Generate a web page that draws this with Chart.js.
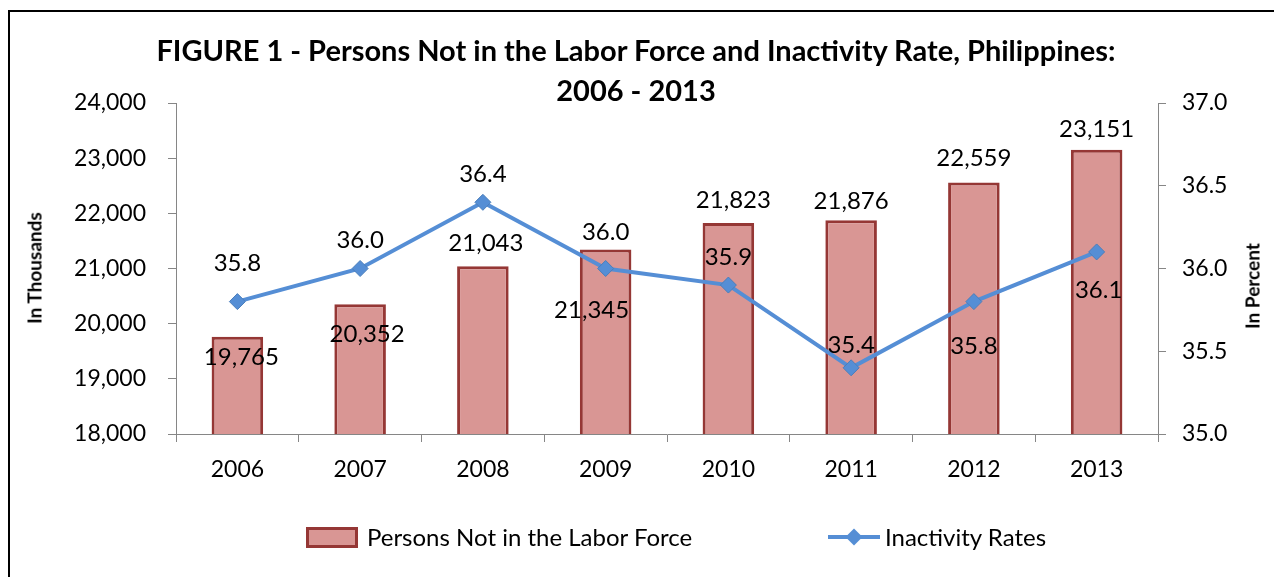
<!DOCTYPE html>
<html>
<head>
<meta charset="utf-8">
<script src="https://cdn.jsdelivr.net/npm/chart.js@4"></script>
<style>
  body { margin: 0; background: #fff; font-family: Lato, sans-serif; }
  #wrap { position: relative; width: 1274px; height: 577px; overflow: hidden; background: #fff; }
  #frame { position: absolute; left: 8px; top: 10px; width: 1300px; height: 620px; border: 2px solid #000; box-sizing: border-box; }
  #chart { position: absolute; left: 0; top: 0; }
  .title { position: absolute; left: 0; width: 1272px; text-align: center; font-weight: bold; font-size: 29px; color: #000; line-height: 36px; }
  .axtitle { position: absolute; font-weight: bold; font-size: 19px; color: #000; white-space: nowrap; transform: translate(-50%, -50%) rotate(-90deg); }
  .leg { position: absolute; font-size: 24px; color: #000; line-height: 30px; white-space: nowrap; }
  .leg-bar { position: absolute; width: 46px; height: 15px; background: #D99694; border: 3px solid #953735; }
  .leg-line { position: absolute; width: 52px; height: 4px; background: #558ED5; }
  .leg-dia { position: absolute; width: 12px; height: 12px; background: #558ED5; transform: rotate(45deg); }
</style>
</head>
<body>
<div id="wrap">
  <div id="frame"></div>
  <canvas id="chart" width="1274" height="577"></canvas>
  <div class="title" style="top:32px">FIGURE 1 - Persons Not in the Labor Force and Inactivity Rate, Philippines:</div>
  <div class="title" style="top:72px">2006 - 2013</div>
  <div class="axtitle" style="left:34px;top:268px">In Thousands</div>
  <div class="axtitle" style="left:1252px;top:286px">In Percent</div>
  <div class="leg-bar" style="left:306px;top:527px"></div>
  <div class="leg" style="left:367px;top:522px">Persons Not in the Labor Force</div>
  <div class="leg-line" style="left:828px;top:535px"></div>
  <div class="leg-dia" style="left:848px;top:531px"></div>
  <div class="leg" style="left:885px;top:522px">Inactivity Rates</div>
</div>
<script>
// Datos
const years = ['2006', '2007', '2008', '2009', '2010', '2011', '2012', '2013'];
const personsNotInLF = [19765, 20352, 21043, 21345, 21823, 21876, 22559, 23151];
const inactivityRates = [35.8, 36.0, 36.4, 36.0, 35.9, 35.4, 35.8, 36.1];
const leftTicks = { min: 18000, max: 24000, step: 1000 };
const rightTicks = { min: 35, max: 37, step: 0.5 };

const fmtThousands = v => Number(v).toLocaleString('en-US');

// etiquetas de valores
const valueLabels = {
  id: 'valueLabels',
  afterDatasetsDraw(chart, args, opts) {
    const ctx = chart.ctx;
    ctx.save();
    ctx.font = opts.font;
    ctx.fillStyle = '#000';
    ctx.textAlign = 'center';
    ctx.textBaseline = 'middle';
    chart.data.datasets.forEach((ds, di) => {
      const meta = chart.getDatasetMeta(di);
      const off = opts.offsets[di];
      meta.data.forEach((el, i) => {
        const txt = di === 0 ? fmtThousands(ds.data[i]) : ds.data[i].toFixed(1);
        ctx.fillText(txt, el.x + off[i][0], el.y + off[i][1]);
      });
    });
    ctx.restore();
  }
};

const tickFont = { family: 'Lato', size: 23 };
const axisGray = '#868686';

new Chart(document.getElementById('chart'), {
  type: 'bar',
  data: {
    labels: years,
    datasets: [
      {
        label: 'Persons Not in the Labor Force',
        data: personsNotInLF,
        yAxisID: 'y',
        backgroundColor: '#D99694',
        borderColor: '#953735',
        borderWidth: 3,
        barPercentage: 0.42,
        categoryPercentage: 1,
        order: 2
      },
      {
        type: 'line',
        label: 'Inactivity Rates',
        data: inactivityRates,
        yAxisID: 'y1',
        borderColor: '#558ED5',
        backgroundColor: '#558ED5',
        borderWidth: 4,
        pointStyle: 'rectRot',
        pointRadius: 8,
        pointBorderWidth: 1,
        pointBorderColor: '#4A7EBB',
        tension: 0,
        order: 1
      }
    ]
  },
  options: {
    responsive: false,
    devicePixelRatio: 1,
    animation: false,
    layout: { padding: { left: 0, right: 0, top: 103, bottom: 0 } },
    plugins: {
      legend: { display: false },
      title: { display: false },
      tooltip: { enabled: false },
      valueLabels: {
        font: '24px Lato',
        offsets: [
          [[4, 21], [7, 30], [3, -23], [-14, 61], [5, -23], [0, -19], [0, -24], [0, -21]],
          [[0, -38], [0, -28], [0, -28], [0, -36], [0, -28], [0, -23], [0, 45], [2, 38]]
        ]
      }
    },
    scales: {
      x: {
        offset: true,
        afterFit: s => { s.height = 143; },
        grid: { offset: true, drawOnChartArea: false, drawTicks: true, tickLength: 8, color: axisGray },
        border: { display: true, color: axisGray, width: 1 },
        ticks: { font: tickFont, color: '#000', padding: 14 }
      },
      y: {
        position: 'left',
        min: leftTicks.min,
        max: leftTicks.max,
        afterFit: s => { s.width = 176; },
        grid: { drawOnChartArea: false, drawTicks: true, tickLength: 8, color: axisGray },
        border: { display: true, color: axisGray, width: 1 },
        ticks: { stepSize: leftTicks.step, font: tickFont, color: '#000', padding: 22, callback: v => fmtThousands(v) }
      },
      y1: {
        position: 'right',
        min: rightTicks.min,
        max: rightTicks.max,
        afterFit: s => { s.width = 116; },
        grid: { drawOnChartArea: false, drawTicks: true, tickLength: 8, color: axisGray },
        border: { display: true, color: axisGray, width: 1 },
        ticks: { stepSize: rightTicks.step, font: tickFont, color: '#000', padding: 16, callback: v => Number(v).toFixed(1) }
      }
    }
  },
  plugins: [valueLabels]
});
</script>
</body>
</html>
